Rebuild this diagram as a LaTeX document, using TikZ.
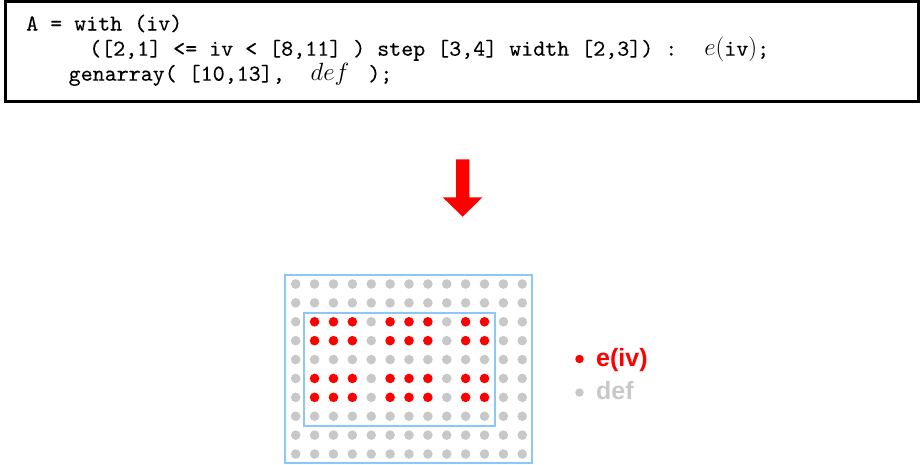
\documentclass[tikz,border=0pt]{standalone}
\usepackage{fontspec}
\newfontfamily\legendfont{Liberation Sans}
\newfontfamily\codefont{lmmono10-regular.otf}[FakeBold=0.15]
\definecolor{dotgrey}{RGB}{200,200,200}
\definecolor{frameblue}{RGB}{140,200,245}
\definecolor{hotred}{RGB}{255,0,0}
\tikzset{
  codeline/.style={anchor=base west, inner sep=0pt,
    font=\codefont\fontsize{22.86}{25}\selectfont},
  legendtext/.style={anchor=base west, inner sep=0pt,
    font=\legendfont\bfseries\fontsize{25}{28}\selectfont},
  legenddot/.style={circle, inner sep=0pt, minimum size=8.5pt},
  region/.style={draw=frameblue, line width=2pt},
}
\begin{document}
\begin{tikzpicture}[x=1pt, y=-1pt]
  \useasboundingbox (0,0) rectangle (920,464);

  % code box
  \node (codebox) [draw=black, line width=3pt, minimum width=912.8pt,
        minimum height=99.5pt, inner sep=0pt] at (461.9,51.25) {};
  \node (code1) [codeline] at (26,30.5) {A = with (iv)};
  \node (code2) [codeline] at (89,55.7)
    {([2,1] <= iv < [8,11] ) step [3,4] width [2,3]) :\hspace{27pt}$e($iv$)$;};
  \node (code3) [codeline] at (68.5,80.7)
    {genarray( [10,13],\hspace{26pt}$def$\hspace{19pt});};

  % big arrow
  \fill[hotred] (456,159.3) -- (469.3,159.3) -- (469.3,197.3) -- (482.3,197.3)
    -- (462.7,216.7) -- (442.7,197.3) -- (456,197.3) -- cycle;

  % index space and generator region
  \draw[region] (285,275) rectangle (532.3,463);
  \draw[region] (304.3,312.7) rectangle (495,426);
  \foreach \r in {0,...,9}{
    \foreach \c in {0,...,12}{
      \pgfmathtruncatemacro\inr{(\r>=2)&&(\r<=7)&&(mod(\r+1,3)<2)&&(\c>=1)&&(\c<=10)&&(mod(\c+3,4)<3)}
      \ifnum\inr=1 \def\dotcol{hotred}\else\def\dotcol{dotgrey}\fi
      \fill[\dotcol] (295.7+18.88*\c, 284+18.89*\r) circle[radius=4.8pt];
    }
  }

  % legend
  \node (eivdot) [legenddot, fill=hotred] at (579.5,359) {};
  \node (eivtext) [legendtext, text=hotred] at (596,366) {e(iv)};
  \node (defdot) [legenddot, fill=dotgrey] at (579.5,392.5) {};
  \node (deftext) [legendtext, text=dotgrey] at (596,399.3) {def};
\end{tikzpicture}
\end{document}
